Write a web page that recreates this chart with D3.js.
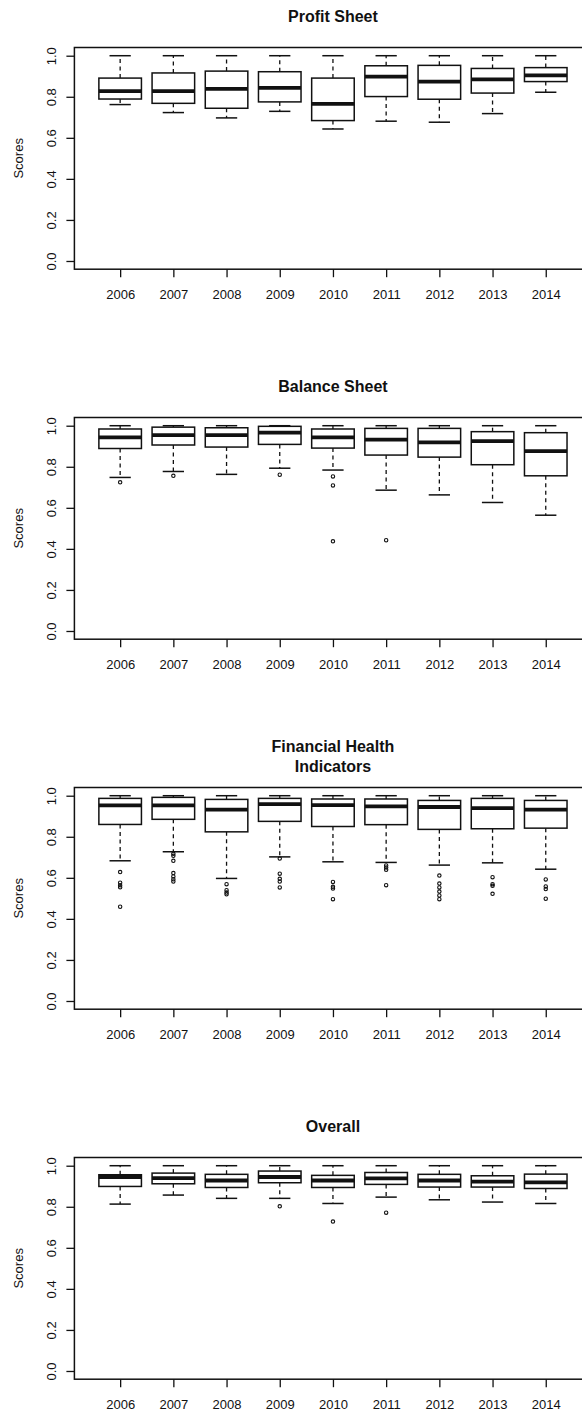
<!DOCTYPE html>
<html>
<head>
<meta charset="utf-8">
<script src="https://cdn.jsdelivr.net/npm/d3@7"></script>
<style>
  body { margin: 0; background: #fff; }
  svg { display: block; }
</style>
</head>
<body>
<svg id="chart" width="582" height="1413"></svg>
<script>
const years = ["2006", "2007", "2008", "2009", "2010", "2011", "2012", "2013", "2014"];
const yTicks = [0, 0.2, 0.4, 0.6, 0.8, 1.0];

// per year: [lower whisker, Q1, median, Q3, upper whisker]
const profitBoxes = [
  [0.762, 0.789, 0.827, 0.891, 1.0],
  [0.723, 0.768, 0.827, 0.916, 1.0],
  [0.697, 0.744, 0.838, 0.925, 1.0],
  [0.729, 0.775, 0.843, 0.922, 1.0],
  [0.643, 0.684, 0.765, 0.891, 1.0],
  [0.681, 0.801, 0.898, 0.951, 1.0],
  [0.676, 0.788, 0.874, 0.953, 1.0],
  [0.718, 0.818, 0.885, 0.938, 1.0],
  [0.822, 0.874, 0.904, 0.942, 1.0]
];
const profitOutliers = [[], [], [], [], [], [], [], [], []];

const balanceBoxes = [
  [0.748, 0.889, 0.943, 0.984, 1.0],
  [0.777, 0.906, 0.954, 0.993, 1.0],
  [0.763, 0.896, 0.954, 0.990, 1.0],
  [0.793, 0.909, 0.966, 0.997, 1.0],
  [0.784, 0.891, 0.943, 0.984, 1.0],
  [0.686, 0.857, 0.932, 0.987, 1.0],
  [0.663, 0.847, 0.919, 0.987, 1.0],
  [0.626, 0.810, 0.925, 0.971, 1.0],
  [0.564, 0.756, 0.876, 0.966, 1.0]
];
const balanceOutliers = [
  [0.724], [0.756], [], [0.761], [0.753, 0.709, 0.437], [0.442], [], [], []
];

const healthBoxes = [
  [0.683, 0.860, 0.953, 0.987, 1.0],
  [0.727, 0.885, 0.953, 0.992, 1.0],
  [0.597, 0.824, 0.932, 0.982, 1.0],
  [0.702, 0.875, 0.959, 0.987, 1.0],
  [0.678, 0.850, 0.954, 0.984, 1.0],
  [0.675, 0.859, 0.948, 0.984, 1.0],
  [0.662, 0.836, 0.945, 0.977, 1.0],
  [0.673, 0.839, 0.940, 0.987, 1.0],
  [0.642, 0.842, 0.932, 0.977, 1.0]
];
const healthOutliers = [
  [0.628, 0.576, 0.564, 0.554, 0.459],
  [0.717, 0.707, 0.683, 0.623, 0.607, 0.593, 0.582],
  [0.569, 0.540, 0.528, 0.520],
  [0.694, 0.620, 0.595, 0.582, 0.553],
  [0.580, 0.556, 0.548, 0.496],
  [0.660, 0.650, 0.639, 0.564],
  [0.611, 0.572, 0.553, 0.533, 0.514, 0.496],
  [0.603, 0.569, 0.561, 0.522],
  [0.592, 0.558, 0.545, 0.498]
];

const overallBoxes = [
  [0.813, 0.899, 0.945, 0.956, 1.0],
  [0.857, 0.912, 0.940, 0.964, 1.0],
  [0.841, 0.894, 0.928, 0.958, 1.0],
  [0.841, 0.917, 0.945, 0.974, 1.0],
  [0.816, 0.894, 0.928, 0.953, 1.0],
  [0.847, 0.909, 0.938, 0.967, 1.0],
  [0.834, 0.896, 0.928, 0.958, 1.0],
  [0.823, 0.896, 0.922, 0.951, 1.0],
  [0.816, 0.889, 0.919, 0.959, 1.0]
];
const overallOutliers = [[], [], [], [0.802], [0.728], [0.771], [], [], []];

const panels = [
  {title: ["Profit Sheet"], boxes: profitBoxes, outliers: profitOutliers},
  {title: ["Balance Sheet"], boxes: balanceBoxes, outliers: balanceOutliers},
  {title: ["Financial Health", "Indicators"], boxes: healthBoxes, outliers: healthOutliers},
  {title: ["Overall"], boxes: overallBoxes, outliers: overallOutliers}
];

const ink = "#111";
const font = "'Liberation Sans', Arial, Helvetica, sans-serif";
const left = 74.4, right = 591.5, plotH = 221.7, step = 370;

const svg = d3.select("#chart");
svg.append("rect").attr("width", 582).attr("height", 1413).attr("fill", "#fff");

panels.forEach((p, i) => {
  const top = 47.5 + step * i, bottom = top + plotH;
  const x = d3.scaleLinear().domain([0.14, 9.86]).range([left, right]);
  const y = d3.scaleLinear().domain([-0.04, 1.04]).range([bottom, top]);
  const hw = (x(1) - x(0)) * 0.4;

  const g = svg.append("g");

  // title (multi-line titles centred on the usual position)
  const title = g.append("text")
      .attr("x", (left + right) / 2)
      .attr("text-anchor", "middle")
      .attr("font-family", font)
      .attr("font-weight", "bold")
      .attr("font-size", 16)
      .attr("fill", ink);
  p.title.forEach((t, k) => {
    title.append("tspan")
        .attr("x", (left + right) / 2)
        .attr("y", top - 25.8 - (p.title.length - 1) * 10 + k * 20)
        .text(t);
  });

  // y axis
  const ya = g.append("g")
      .attr("transform", `translate(${left},0)`)
      .call(d3.axisLeft(y).tickValues(yTicks).tickSize(8).tickFormat(d3.format(".1f")));
  ya.select(".domain").remove();
  ya.selectAll("line").attr("stroke", ink).attr("stroke-width", 1.3);
  ya.selectAll("text")
      .attr("x", 0).attr("y", 0).attr("dy", 0)
      .attr("transform", "translate(-18,0) rotate(-90)")
      .attr("text-anchor", "middle")
      .attr("font-family", font).attr("font-size", 13).attr("fill", ink);

  // x axis
  const xa = g.append("g")
      .attr("transform", `translate(0,${bottom})`)
      .call(d3.axisBottom(x).tickValues(d3.range(1, years.length + 1))
        .tickSize(8).tickFormat(d => years[d - 1]));
  xa.select(".domain").remove();
  xa.selectAll("line").attr("stroke", ink).attr("stroke-width", 1.3);
  xa.selectAll("text")
      .attr("y", 30).attr("dy", 0)
      .attr("font-family", font).attr("font-size", 13).attr("fill", ink);

  g.append("text")
      .attr("transform", `translate(23,${(top + bottom) / 2}) rotate(-90)`)
      .attr("text-anchor", "middle")
      .attr("font-family", font).attr("font-size", 13).attr("fill", ink)
      .text("Scores");

  // boxes
  const bx = g.selectAll(".box")
    .data(p.boxes)
    .join("g")
      .attr("class", "box")
      .attr("transform", (d, j) => `translate(${x(j + 1)},0)`)
      .attr("stroke", ink)
      .attr("fill", "none");

  bx.append("line")
      .attr("y1", d => y(d[3])).attr("y2", d => y(d[4]))
      .attr("stroke-width", 1.3).attr("stroke-dasharray", "4,3.5");
  bx.append("line")
      .attr("y1", d => y(d[1])).attr("y2", d => y(d[0]))
      .attr("stroke-width", 1.3).attr("stroke-dasharray", "4,3.5");
  bx.append("line")
      .attr("x1", -hw / 2).attr("x2", hw / 2)
      .attr("y1", d => y(d[4])).attr("y2", d => y(d[4]))
      .attr("stroke-width", 1.5);
  bx.append("line")
      .attr("x1", -hw / 2).attr("x2", hw / 2)
      .attr("y1", d => y(d[0])).attr("y2", d => y(d[0]))
      .attr("stroke-width", 1.5);
  bx.append("rect")
      .attr("x", -hw).attr("width", 2 * hw)
      .attr("y", d => y(d[3])).attr("height", d => y(d[1]) - y(d[3]))
      .attr("fill", "#fff").attr("stroke-width", 1.5);
  bx.append("line")
      .attr("x1", -hw).attr("x2", hw)
      .attr("y1", d => y(d[2])).attr("y2", d => y(d[2]))
      .attr("stroke-width", 3.8);

  // outliers
  g.selectAll(".out")
    .data(p.outliers.flatMap((vals, j) => vals.map(v => ({j, v}))))
    .join("circle")
      .attr("class", "out")
      .attr("cx", d => x(d.j + 1))
      .attr("cy", d => y(d.v))
      .attr("r", 1.7)
      .attr("fill", "none")
      .attr("stroke", ink)
      .attr("stroke-width", 1.1);

  // frame
  g.append("rect")
      .attr("x", left).attr("y", top)
      .attr("width", right - left).attr("height", plotH)
      .attr("fill", "none").attr("stroke", ink).attr("stroke-width", 1.5);
});
</script>
</body>
</html>
